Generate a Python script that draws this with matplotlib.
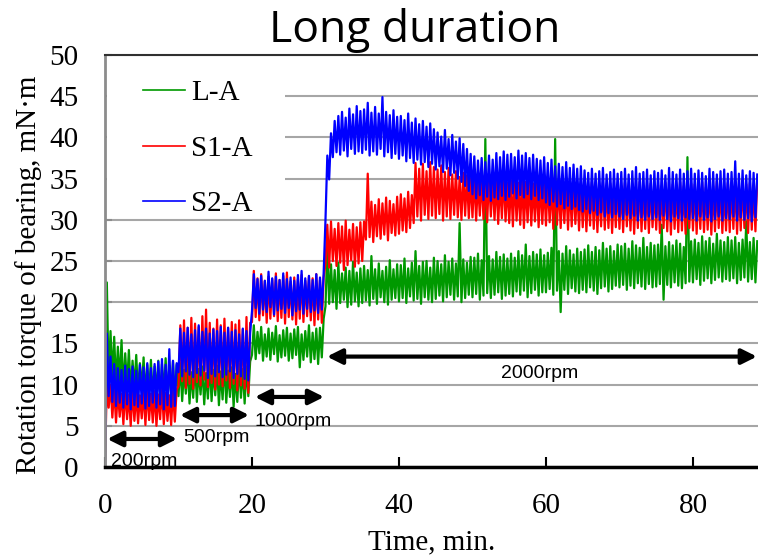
import numpy as np
import matplotlib
matplotlib.use("Agg")
import matplotlib.pyplot as plt
from matplotlib.patches import Rectangle

plt.rcParams['font.family'] = ['Liberation Serif', 'DejaVu Serif']

# rotation torque (mN*m), sampled every 0.5 min; lo at t, hi at t+0.25
# segments: 200rpm (0-10), 500rpm (10-20), 1000rpm (20-30), 2000rpm (30-89)
la_lo = [0.2, 10.2, 10.8, 9.9, 10.4, 9.3, 9.9, 8.9, 9.6, 8.7, 9.3, 8.6, 9.1, 8.4, 9.0, 8.3, 8.9, 8.2, 8.7, 8.5,
         8.6, 8.0, 8.9, 7.7, 8.4, 7.9, 8.8, 7.6, 8.3, 8.0, 8.7, 7.5, 8.2, 7.8, 8.5, 7.3, 7.9, 8.4, 7.7, 8.6,
         13.6, 13.1, 13.8, 12.9, 13.4, 13.0, 13.7, 12.8, 13.3, 13.5, 12.9, 13.2, 13.6, 12.1, 13.0, 13.4, 12.7, 13.1, 12.5, 13.3,
         19.5, 19.8, 20.0, 19.2, 19.9, 20.3, 19.4, 19.7, 20.1, 19.5,
         19.9, 20.2, 19.6, 20.4, 19.8, 20.6, 20.0, 19.7, 20.3, 20.5,
         20.1, 20.5, 19.9, 20.7, 20.2, 20.4, 19.8, 20.6, 20.3, 20.0,
         20.4, 20.8, 20.1, 20.6, 20.9, 20.3, 20.7, 20.0, 20.5, 20.9,
         20.6, 21.0, 20.3, 20.8, 21.1, 20.5, 20.9, 21.2, 20.4, 20.8,
         21.0, 20.7, 21.3, 20.9, 21.4, 20.6, 21.1, 21.5, 20.8, 21.2,
         21.2, 21.6, 20.9, 21.4, 18.8, 21.5, 21.0, 21.7, 21.3, 21.1,
         21.5, 21.2, 21.8, 21.4, 21.0, 21.7, 21.9, 21.3, 21.6, 22.0,
         21.8, 22.1, 21.5, 22.0, 21.7, 22.3, 21.9, 21.6, 22.2, 21.8,
         21.9, 22.2, 20.3, 22.1, 21.8, 22.4, 22.0, 21.7, 22.3, 22.5,
         22.4, 22.8, 22.1, 22.6, 22.9, 22.3, 22.7, 23.0, 22.5, 22.8,
         22.6, 22.9, 22.3, 22.7, 23.0, 22.5, 22.8, 22.4]
la_hi = [22.4, 16.5, 15.8, 14.6, 15.4, 13.8, 14.2, 12.9, 13.6, 12.6, 13.3, 12.4, 13.0, 12.2, 12.9, 12.5, 13.2, 12.3, 12.8, 12.4,
         12.6, 11.8, 12.4, 11.5, 12.9, 11.9, 12.2, 11.4, 12.7, 11.8, 12.3, 11.6, 12.8, 11.7, 12.1, 11.3, 12.5, 11.9, 12.2, 12.8,
         17.2, 16.4, 17.0, 16.1, 16.8, 16.3, 17.1, 16.0, 16.6, 16.9, 16.2, 16.7, 17.0, 16.1, 16.5, 17.2, 16.3, 16.8, 16.9, 18.0,
         26.8, 24.6, 23.9, 24.8, 23.5, 24.2, 23.8, 24.9, 23.6, 24.1,
         24.4, 23.9, 25.6, 24.0, 24.7, 23.8, 24.3, 25.1, 24.0, 24.6,
         24.5, 25.3, 24.1, 24.8, 26.2, 24.4, 24.9, 25.0, 24.2, 25.4,
         25.0, 24.6, 25.7, 24.9, 25.3, 24.7, 29.6, 25.2, 24.8, 25.5,
         25.4, 25.9, 25.1, 39.8, 25.6, 25.2, 26.1, 25.5, 25.8, 25.3,
         25.9, 25.4, 26.2, 25.7, 27.0, 25.6, 26.1, 25.8, 26.4, 25.7,
         26.0, 26.6, 39.8, 26.2, 25.9, 26.8, 26.3, 25.8, 26.5, 26.1,
         26.4, 26.9, 26.1, 26.7, 26.3, 27.2, 26.5, 26.8, 26.2, 27.0,
         26.8, 27.1, 26.5, 27.4, 26.9, 26.6, 27.8, 26.7, 27.2, 26.9,
         27.0, 29.4, 26.8, 27.3, 26.9, 27.5, 27.1, 26.7, 37.6, 27.4,
         27.6, 27.2, 28.0, 27.4, 27.8, 27.1, 28.3, 27.5, 27.3, 27.9,
         27.5, 27.9, 27.2, 27.6, 29.8, 27.3, 27.8, 27.4]

s1_lo = [0.3, 7.2, 6.0, 5.4, 6.1, 5.2, 5.8, 5.0, 5.6, 5.3, 5.9, 5.1, 5.7, 5.4, 5.0, 5.8, 5.2, 5.6, 5.1, 5.5,
         9.8, 10.4, 9.6, 10.1, 9.5, 10.3, 9.9, 10.6, 9.7, 10.2, 9.4, 10.0, 9.8, 10.5, 9.6, 10.1, 9.3, 9.9, 9.5, 9.0,
         17.6, 18.2, 17.8, 18.4, 17.5, 18.0, 18.3, 17.7, 18.1, 17.4, 18.2, 17.9, 17.3, 18.0, 17.6, 18.3, 17.8, 17.2, 17.9, 17.5,
         24.6, 24.2, 25.0, 24.4, 24.8, 23.9, 24.5, 25.1, 24.3, 24.7,
         25.0, 27.6, 27.9, 27.3, 28.0, 27.7, 28.2, 27.5, 28.4, 28.1,
         28.3, 28.7, 28.5, 29.0, 29.6, 30.4, 29.9, 30.6, 30.1, 30.5,
         30.2, 30.7, 29.9, 30.4, 30.1, 30.6, 30.3, 30.0, 30.5, 30.2,
         30.3, 29.9, 30.5, 30.1, 29.7, 30.4, 30.0, 29.5, 30.2, 29.8,
         29.6, 29.2, 29.9, 29.4, 29.0, 29.7, 29.3, 29.8, 29.1, 29.5,
         29.3, 29.7, 28.9, 29.4, 29.0, 29.6, 28.8, 29.2, 29.5, 28.7,
         29.1, 28.6, 29.3, 28.9, 28.5, 29.2, 28.8, 29.0, 28.4, 29.1,
         28.9, 28.5, 29.2, 28.7, 28.3, 29.0, 28.6, 28.9, 28.4, 29.1,
         28.8, 28.4, 29.0, 28.6, 28.2, 28.9, 28.5, 28.7, 28.3, 29.0,
         28.7, 28.3, 28.9, 28.5, 28.8, 28.2, 28.6, 29.0, 28.4, 28.7,
         28.5, 28.9, 28.3, 28.7, 29.0, 28.4, 28.8, 28.6]
s1_hi = [10.3, 10.0, 9.5, 9.2, 8.9, 9.4, 8.8, 9.3, 9.0, 8.7, 9.1, 9.5, 8.9, 9.2, 8.8, 9.6, 9.0, 8.7, 9.3, 9.4,
         17.2, 17.8, 16.9, 18.1, 17.4, 17.0, 18.3, 19.1, 17.5, 16.8, 17.9, 17.2, 18.0, 16.9, 17.6, 17.3, 17.8, 16.7, 18.2, 17.5,
         23.8, 22.9, 23.4, 22.6, 23.1, 22.8, 23.5, 22.7, 23.2, 23.6, 22.5, 23.0, 22.8, 23.3, 22.6, 23.1, 22.9, 23.4, 22.7, 23.0,
         29.4, 29.8, 28.9, 29.6, 29.2, 29.9, 28.8, 29.5, 29.1, 29.7,
         29.8, 35.6, 32.2, 31.8, 32.5, 32.0, 32.7, 32.3, 31.9, 32.8,
         33.1, 32.6, 33.4, 33.0, 36.9, 36.2, 36.8, 35.9, 37.0, 36.4,
         36.1, 36.6, 35.8, 36.3, 35.5, 35.9, 35.2, 35.7, 35.4, 35.0,
         35.3, 34.8, 35.1, 34.6, 35.4, 34.9, 35.0, 34.7, 35.5, 34.5,
         34.8, 35.2, 34.5, 34.9, 34.6, 35.3, 34.4, 34.7, 35.0, 34.5,
         34.7, 34.3, 34.9, 34.5, 34.2, 34.8, 34.4, 34.6, 34.1, 34.5,
         34.3, 34.0, 34.6, 34.2, 33.9, 34.5, 34.1, 34.4, 33.8, 34.2,
         34.1, 34.5, 33.8, 34.3, 34.0, 34.6, 33.9, 34.2, 34.4, 33.7,
         34.2, 33.8, 34.5, 34.0, 34.3, 33.9, 34.6, 34.1, 33.7, 34.4,
         34.3, 34.0, 34.6, 33.9, 34.4, 34.1, 34.7, 34.2, 33.8, 34.5,
         34.2, 34.6, 34.0, 34.8, 34.3, 34.5, 34.1, 35.0]

s2_lo = [0.1, 8.6, 7.9, 7.4, 7.8, 7.2, 7.6, 7.0, 7.5, 7.3, 7.7, 7.1, 7.4, 7.8, 7.2, 7.6, 7.0, 7.5, 7.3, 7.4,
         11.5, 11.0, 11.6, 11.2, 10.9, 11.4, 11.1, 11.7, 10.8, 11.3, 11.0, 11.5, 10.9, 11.2, 11.6, 10.8, 11.3, 11.0, 10.7, 10.5,
         18.9, 19.3, 18.6, 19.1, 18.8, 19.4, 18.5, 19.0, 19.2, 18.7, 19.3, 18.4, 18.9, 19.1, 18.6, 19.2, 18.8, 19.0, 18.7, 19.1,
         30.0, 34.9, 37.6, 38.2, 37.9, 38.4, 37.7, 38.6, 38.0, 38.3,
         38.1, 38.5, 37.8, 38.3, 37.9, 38.6, 37.7, 38.2, 37.5, 38.0,
         37.4, 37.8, 37.1, 37.5, 36.9, 37.3, 36.7, 37.0, 36.4, 36.8,
         36.1, 36.5, 35.8, 36.2, 35.4, 35.7, 35.0, 34.6, 34.1, 33.5,
         33.1, 32.6, 33.0, 32.4, 32.8, 32.3, 32.7, 32.5, 32.9, 32.4,
         32.8, 33.2, 32.6, 33.0, 32.7, 33.1, 32.5, 32.9, 32.4, 32.6,
         32.1, 31.8, 32.2, 31.6, 31.9, 31.4, 31.7, 31.3, 31.6, 31.2,
         31.0, 31.3, 30.8, 31.1, 30.6, 30.9, 30.4, 30.8, 30.3, 30.7,
         30.4, 30.1, 30.6, 30.2, 30.5, 29.9, 30.3, 30.0, 30.4, 30.1,
         30.3, 30.0, 30.5, 30.1, 29.8, 30.4, 30.2, 29.9, 30.3, 30.1,
         30.2, 29.9, 30.4, 30.0, 30.3, 29.8, 30.1, 30.4, 29.9, 30.2,
         30.1, 30.4, 29.9, 30.3, 30.0, 30.2, 29.8, 30.3]
s2_hi = [16.2, 13.4, 12.5, 12.0, 11.8, 12.3, 11.9, 12.2, 11.7, 12.4, 12.1, 12.6, 12.0, 12.5, 12.8, 13.1, 12.4, 14.3, 12.9, 12.6,
         16.8, 16.3, 16.9, 16.1, 16.6, 17.2, 16.4, 16.8, 16.2, 16.7, 16.5, 17.0, 16.3, 16.9, 16.4, 16.6, 16.1, 16.8, 16.5, 16.3,
         23.4, 22.8, 23.2, 22.6, 23.7, 22.9, 23.1, 22.7, 23.5, 22.8, 23.0, 22.6, 23.3, 23.8, 22.9, 23.2, 22.7, 23.4, 23.0, 23.5,
         37.8, 40.5, 42.0, 42.6, 43.1, 42.4, 43.5, 42.8, 43.8, 43.2,
         43.4, 44.2, 43.0, 43.7, 42.9, 44.9, 43.1, 42.7, 43.3, 42.5,
         42.6, 42.1, 42.9, 41.8, 42.3, 41.6, 42.0, 41.3, 41.7, 41.0,
         40.6, 40.1, 40.9, 39.8, 40.3, 39.5, 39.9, 39.2, 38.6, 38.0,
         37.7, 37.2, 37.5, 37.0, 37.8, 37.3, 38.1, 37.6, 38.3, 37.9,
         38.0, 37.6, 38.4, 37.8, 38.1, 37.5, 37.9, 37.4, 37.2, 37.6,
         36.9, 37.3, 36.5, 36.8, 36.4, 37.0, 36.3, 36.7, 36.2, 36.5,
         36.0, 35.7, 36.2, 35.6, 35.9, 36.3, 35.5, 35.8, 36.1, 35.6,
         35.8, 36.2, 35.5, 35.9, 36.4, 35.6, 35.8, 36.1, 35.4, 35.9,
         35.7, 36.0, 35.4, 36.3, 35.8, 35.5, 36.1, 35.6, 35.9, 36.2,
         35.6, 36.0, 35.7, 35.3, 36.2, 35.8, 35.5, 35.9, 36.1, 35.6,
         35.8, 37.1, 35.6, 36.0, 35.4, 35.9, 35.7, 35.5]

labels = ['L-A', 'S1-A', 'S2-A']
colors = ['#009900', '#ff0000', '#0000ff']

# speed steps: (start min, end min, label)
steps = [(0.3, 9.8, '200rpm'), (10.2, 19.6, '500rpm'), (20.4, 29.8, '1000rpm'), (30.2, 88.7, '2000rpm')]
arrow_y = [3.4, 6.3, 8.5, 13.4]
label_xy = [(5.4, 0.7), (15.1, 3.6), (25.6, 5.5), (59.1, 11.4)]


def trace(lo, hi):
    lo = np.asarray(lo)
    hi = np.asarray(hi)
    t = 0.5 * np.arange(len(lo))
    x = np.empty(2 * len(lo))
    y = np.empty(2 * len(lo))
    x[0::2] = t
    x[1::2] = t + 0.25
    y[0::2] = lo
    y[1::2] = hi
    return x, y


fig = plt.figure(figsize=(7.58, 5.6), dpi=100)
ax = fig.add_axes([105 / 758, 93 / 560, 653 / 758, 412 / 560])

for (lo, hi), lab, c in zip([(la_lo, la_hi), (s1_lo, s1_hi), (s2_lo, s2_hi)], labels, colors):
    x, y = trace(lo, hi)
    ax.plot(x, y, color=c, lw=1.6, label=lab, zorder=2)

ax.set_xlim(0, 88.85)
ax.set_ylim(0, 50)
ax.set_xticks([0, 20, 40, 60, 80])
ax.set_yticks(np.arange(0, 51, 5))
ax.set_axisbelow(True)
ax.yaxis.grid(True, color='#a6a6a6', lw=1.5)
ax.tick_params(axis='y', direction='in', length=5, width=1.5, color='#8c8c8c', labelsize=21, pad=19)
ax.tick_params(axis='x', direction='in', length=7, width=1.5, color='black', labelsize=21, pad=19)

ax.spines['left'].set_color('#8c8c8c')
ax.spines['left'].set_linewidth(2)
ax.spines['bottom'].set_color('black')
ax.spines['bottom'].set_linewidth(2.5)
ax.spines['top'].set_color('#303030')
ax.spines['top'].set_linewidth(1.5)
ax.spines['right'].set_visible(False)

ax.set_xlabel('Time, min.', fontsize=21, labelpad=7)
ax.set_ylabel('Rotation torque of bearing, mN\u00b7m', fontsize=21)
ax.yaxis.set_label_coords(-0.097, 0.466)

# white box behind the legend hides the gridlines
ax.add_patch(Rectangle((0.003, 0.64), 0.273, 0.355, transform=ax.transAxes,
                       facecolor='white', edgecolor='none', zorder=1))
leg = ax.legend(loc='upper left', bbox_to_anchor=(0.058, 0.94), frameon=False, fontsize=21,
                handlelength=1.45, handletextpad=0.2, labelspacing=1.0, borderpad=0, borderaxespad=0)
for h in leg.get_lines():
    h.set_linewidth(1.2)

for (x0, x1, txt), ya, (tx, ty) in zip(steps, arrow_y, label_xy):
    ax.annotate('', xy=(x1, ya), xytext=(x0, ya),
                arrowprops=dict(arrowstyle='<|-|>,head_length=0.9,head_width=0.45',
                                color='black', lw=3, shrinkA=0, shrinkB=0))
    ax.text(tx, ty, txt, ha='center', va='center', fontsize=14, family='Liberation Sans')

fig.text(415 / 758, 1 - 42 / 560, 'Long duration', ha='center', va='baseline',
         fontsize=32, family='Open Sans')

fig.savefig('out.png', dpi=100)
